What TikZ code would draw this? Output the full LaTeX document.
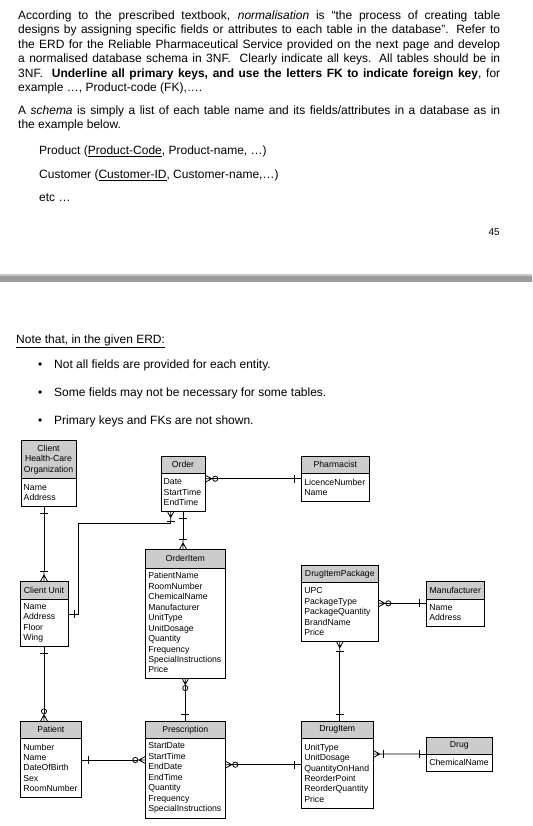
\documentclass[tikz,border=0pt]{standalone}
\usepackage{fontspec}
\setmainfont{Liberation Sans}
\usetikzlibrary{arrows.meta, positioning}
\definecolor{headgray}{HTML}{CCCCCC}
\definecolor{barlight}{HTML}{C8C8C8}
\definecolor{bardark}{HTML}{9C9C9C}
\newcommand{\erdfont}{\fontsize{8.7}{10.45}\selectfont}
\newcommand{\txtfont}{\fontsize{12}{14.4}\selectfont}

% crow's foot tip: prongs open towards the entity, inset = extra stem behind the apex
\newdimen\crowback
\pgfdeclarearrow{
  name = Crow,
  parameters = {\the\pgfarrowlength,\the\pgfarrowwidth,\the\pgfarrowinset},
  setup code = {
    \crowback=-\pgfarrowlength
    \advance\crowback by -\pgfarrowinset
    \pgfarrowssettipend{0pt}
    \pgfarrowssetlineend{\crowback}
    \pgfarrowssetbackend{\crowback}
    \pgfarrowshullpoint{0pt}{.5\pgfarrowwidth}
    \pgfarrowshullpoint{0pt}{-.5\pgfarrowwidth}
    \pgfarrowshullpoint{\crowback}{0pt}
    \pgfarrowssavethe\pgfarrowlength
    \pgfarrowssavethe\pgfarrowwidth
    \pgfarrowssavethe\crowback
  },
  drawing code = {
    \pgfpathmoveto{\pgfqpoint{0pt}{.5\pgfarrowwidth}}
    \pgfpathlineto{\pgfqpoint{-\pgfarrowlength}{0pt}}
    \pgfpathlineto{\pgfqpoint{0pt}{-.5\pgfarrowwidth}}
    \pgfpathmoveto{\pgfqpoint{0pt}{0pt}}
    \pgfpathlineto{\pgfqpoint{\crowback}{0pt}}
    \pgfusepathqstroke
  },
  defaults = {length = 6.5pt, width = 7pt, inset = 0pt}
}

\begin{document}
\begin{tikzpicture}[x=1pt, y=-1pt,
      head/.style = {draw, fill=headgray, anchor=north west, inner sep=0pt,
                     outer sep=0pt, align=center, font=\erdfont},
      body/.style = {draw, fill=white, inner xsep=3pt, inner ysep=0pt,
                     outer sep=0pt, align=left, font=\erdfont},
      prose/.style= {inner sep=0pt, font=\txtfont},
      link/.style = {line width=0.8pt},
      One/.tip      = {Bar[width=8pt] Crow[width=0pt]},
      OneMany/.tip  = {Bar[width=8pt] Crow[inset=3.5pt]},
      ZeroMany/.tip = {Circle[open, length=6pt] Crow[inset=0.5pt]}
    ]
    \useasboundingbox (0,0) rectangle (532,826);

    % page 45 text
    \node[prose, anchor=north west, text width=482pt, align=justify] (intro) at (18,10.6)
      {According to the prescribed textbook, \emph{normalisation} is “the process of creating table\linebreak
       designs by assigning specific fields or attributes to each table in the database”. Refer to\linebreak
       the ERD for the Reliable Pharmaceutical Service provided on the next page and develop\linebreak
       a normalised database schema in 3NF.\ \ Clearly indicate all keys. All tables should be in\linebreak
       3NF.\ \ \textbf{Underline all primary keys, and use the letters FK to indicate foreign key}, for\linebreak
       example …, Product-code (FK),….};
    \node[prose, anchor=north west, text width=482pt, align=justify] (schema) at (18,105.6)
      {A \emph{schema} is simply a list of each table name and its fields/attributes in a database as in\linebreak
       the example below.};
    \node[prose, anchor=base west] (prodex) at (39,154.3) {Product (\underline{Product-Code}, Product-name, …)};
    \node[prose, anchor=base west] (custex) at (39,178.3) {Customer (\underline{Customer-ID}, Customer-name,…)};
    \node[prose, anchor=base west] (etcex)  at (39,201.3) {etc …};
    \node[inner sep=0pt, font=\fontsize{10}{12}\selectfont, anchor=base east] (pagenum) at (500,235.5) {45};

    % page break
    \fill[barlight] (0,274) rectangle (532,276);
    \fill[bardark]  (0,276) rectangle (532,282);

    % page 46 text
    \node[prose, anchor=base west] (note) at (16,343.3) {\underline{Note that, in the given ERD:}};
    \node[prose, anchor=base west] (bul1) at (38,368.3) {•};
    \node[prose, anchor=base west] (bul2) at (38,396.3) {•};
    \node[prose, anchor=base west] (bul3) at (38,424.3) {•};
    \node[prose, anchor=base west] (item1) at (54,368.3) {Not all fields are provided for each entity.};
    \node[prose, anchor=base west] (item2) at (54,396.3) {Some fields may not be necessary for some tables.};
    \node[prose, anchor=base west] (item3) at (54,424.3) {Primary keys and FKs are not shown.};

    % entities
    \node[head, minimum width=55.6pt, minimum height=38pt] (chcoh) at (20.7,440.3) {Client\\Health-Care\\Organization};
    \node[body, text width=49.6pt, minimum height=28pt, below=0pt of chcoh] (chco) {Name\\Address};

    \node[head, minimum width=44.6pt, minimum height=17pt] (ordh) at (160.7,456.3) {Order};
    \node[body, text width=38.6pt, minimum height=37.7pt, below=0pt of ordh] (ord) {Date\\StartTime\\EndTime};

    \node[head, minimum width=68pt, minimum height=17pt] (pharh) at (301.3,456.3) {Pharmacist};
    \node[body, text width=62pt, minimum height=28pt, below=0pt of pharh] (phar) {LicenceNumber\\Name};

    \node[head, minimum width=80pt, minimum height=18.4pt] (oih) at (145.3,549.3) {OrderItem};
    \node[body, text width=74pt, minimum height=110.3pt, below=0pt of oih] (oi)
      {PatientName\\RoomNumber\\ChemicalName\\Manufacturer\\UnitType\\UnitDosage\\Quantity\\Frequency\\SpecialInstructions\\Price};

    \node[head, minimum width=47.4pt, minimum height=18pt] (cuh) at (20.3,581.3) {Client Unit};
    \node[body, text width=41.4pt, minimum height=47pt, below=0pt of cuh] (cu) {Name\\Address\\Floor\\Wing};

    \node[head, minimum width=77pt, minimum height=17pt] (diph) at (301.3,565.3) {DrugItemPackage};
    \node[body, text width=71pt, minimum height=59pt, below=0pt of diph] (dip)
      {UPC\\PackageType\\PackageQuantity\\BrandName\\Price};

    \node[head, minimum width=58pt, minimum height=17.4pt] (mfh) at (426.3,581.3) {Manufacturer};
    \node[body, text width=52pt, minimum height=27.6pt, below=0pt of mfh] (mf) {Name\\Address};

    \node[head, minimum width=61pt, minimum height=17pt] (pah) at (20.3,721.3) {Patient};
    \node[body, text width=55pt, minimum height=59pt, below=0pt of pah] (pa)
      {Number\\Name\\DateOfBirth\\Sex\\RoomNumber};

    \node[head, minimum width=80pt, minimum height=17pt] (prh) at (145.3,721.3) {Prescription};
    \node[body, text width=74pt, minimum height=79.7pt, below=0pt of prh] (pr)
      {StartDate\\StartTime\\EndDate\\EndTime\\Quantity\\Frequency\\SpecialInstructions};

    \node[head, minimum width=72pt, minimum height=17pt] (dih) at (301.3,721.3) {DrugItem};
    \node[body, text width=66pt, minimum height=69.7pt, below=0pt of dih] (di)
      {UnitType\\UnitDosage\\QuantityOnHand\\ReorderPoint\\ReorderQuantity\\Price};

    \node[head, minimum width=66pt, minimum height=16.7pt] (drh) at (426.3,737.3) {Drug};
    \node[body, text width=60pt, minimum height=17pt, below=0pt of drh] (dr) {ChemicalName};

    % relationships
    \coordinate (jog) at (78.3,523.3);
    \draw[link, {ZeroMany}-{One}] ([yshift=-5.4pt]ord.north east) -- ([yshift=-5.4pt]phar.north west);
    \draw[link, {One}-{OneMany}] (ord.south) -- (ord.south |- oih.north);
    \draw[link, {OneMany}-{One}] ([xshift=10pt]ord.south west) |- (jog) |- ([yshift=-14.7pt]cu.north east);
    \draw[link, {One}-{OneMany}] (chco.south -| cuh.north) -- (cuh.north);
    \draw[link, {One}-{ZeroMany}] (cu.south) -- (cu.south |- pah.north);
    \draw[link, {ZeroMany}-{One}] (oi.south) -- (prh.north);
    \draw[link, {One}-{ZeroMany}] ([yshift=-21.7pt]pa.north east) -- ([yshift=-21.7pt]pr.north west);
    \draw[link, {ZeroMany}-{One}] ([yshift=-26.4pt]pr.north east) -- ([yshift=-26.4pt]di.north west);
    \draw[link, {ZeroMany}-{One}] ([yshift=-21pt]dip.north east) -- ([yshift=-21pt]dip.north east -| mf.west);
    \draw[link, {OneMany}-{One}] (dip.south) -- (dip.south |- dih.north);
    \draw[link, {OneMany}-{One}] ([yshift=-15.7pt]di.north east) -- (dr.north west);
  \end{tikzpicture}
\end{document}
